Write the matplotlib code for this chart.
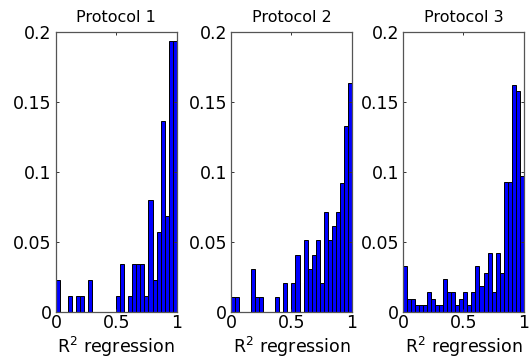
import numpy as np
import matplotlib
matplotlib.use("Agg")
import matplotlib.pyplot as plt

# Histogram counts (30 bins over [0, 1]), with sample sizes
titles = ["Protocol 1", "Protocol 2", "Protocol 3"]
counts_p1 = [2, 0, 0, 1, 0, 1, 1, 0, 2, 0, 0, 0, 0, 0, 0,
             1, 3, 0, 1, 3, 3, 3, 1, 7, 2, 5, 12, 6, 17, 17]
counts_p2 = [1, 1, 0, 0, 0, 3, 1, 1, 0, 0, 0, 1, 0, 2, 0,
             2, 4, 0, 5, 3, 4, 5, 2, 7, 5, 6, 7, 9, 13, 16]
counts_p3 = [7, 2, 2, 1, 1, 1, 3, 2, 1, 1, 5, 3, 3, 1, 2,
             3, 1, 3, 7, 4, 6, 9, 3, 9, 6, 20, 20, 35, 34, 21]
n_samples = [88, 98, 216]
yticks = [0, 0.05, 0.1, 0.15, 0.2]
ytick_labels = ["0", "0.05", "0.1", "0.15", "0.2"]
xticks = [0, 0.5, 1]
xtick_labels = ["0", "0.5", "1"]
xlabel = r"R$^2$ regression"

plt.rcParams["font.family"] = ["DejaVu Sans"]
plt.rcParams["mathtext.fontset"] = "dejavusans"

fig = plt.figure(figsize=(5.29, 3.58), dpi=100)

lefts = [0.1059, 0.4370, 0.7620]
bottom, width, height = 0.1293, 0.2280, 0.7821

all_counts = [counts_p1, counts_p2, counts_p3]
edges = np.linspace(0, 1, len(counts_p1) + 1)

for left, title, counts, n in zip(lefts, titles, all_counts, n_samples):
    ax = fig.add_axes([left, bottom, width, height])
    frac = np.array(counts) / n
    ax.bar(edges[:-1], frac, width=edges[1] - edges[0], align="edge",
           color="#0000ff", edgecolor="black", linewidth=0.7)

    ax.set_xlim(0, 1)
    ax.set_ylim(0, 0.2)
    ax.set_xticks(xticks)
    ax.set_xticklabels(xtick_labels)
    ax.set_yticks(yticks)
    ax.set_yticklabels(ytick_labels)

    # MATLAB style: inward ticks on all four sides
    ax.tick_params(direction="in", length=2.5, width=0.7, color="#333333",
                   top=True, right=True, labelsize=12.5)
    ax.tick_params(axis="x", pad=1.5)
    ax.tick_params(axis="y", pad=3)
    for sp in ax.spines.values():
        sp.set_color("#555555")
        sp.set_linewidth(0.9)

    ax.set_title(title, fontsize=11.5, pad=7)
    ax.set_xlabel(xlabel, fontsize=12.5, labelpad=2)

fig.savefig("out.png", dpi=100)
